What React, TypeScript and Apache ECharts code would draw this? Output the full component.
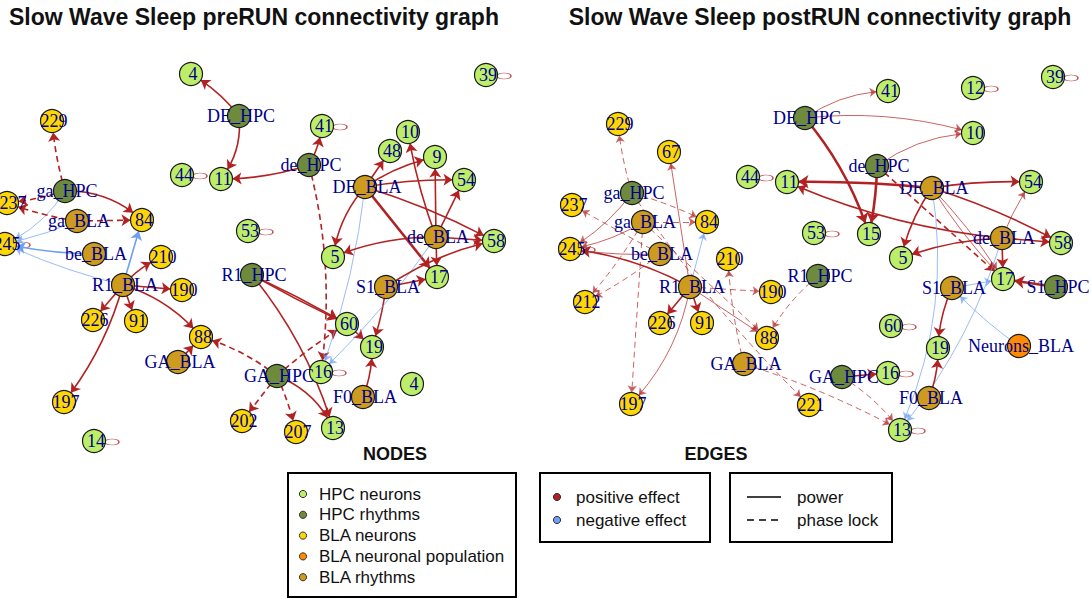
import React, { useEffect, useRef } from "react";
import * as echarts from "echarts";

const PRE_TITLE = "Slow Wave Sleep preRUN connectivity graph";
const POST_TITLE = "Slow Wave Sleep postRUN connectivity graph";

const NODE_TYPES = ["HPC neurons", "HPC rhythms", "BLA neurons", "BLA neuronal population", "BLA rhythms"];
const NODE_COLORS = ["#BCEE68", "#6E8B3D", "#FFD700", "#FF8C00", "#CD9B1D"];
const EFFECTS = ["positive effect", "negative effect"];
const EFFECT_COLORS = ["#B22222", "#6F9FF0"];
const KINDS = ["power", "phase lock"];

// [id, label, node type, x, y]
const PRE_NODES: [string, string, number, number, number][] = [
  ["4", "4", 0, 191, 74],
  ["DE_HPC", "DE_HPC", 1, 239, 116],
  ["229", "229", 2, 52, 121],
  ["41", "41", 0, 322, 126],
  ["39", "39", 0, 486, 75],
  ["44", "44", 0, 182, 175],
  ["11", "11", 0, 221, 179],
  ["de_HPC", "de_HPC", 1, 309, 165],
  ["10", "10", 0, 408, 132],
  ["48", "48", 0, 390, 151],
  ["9", "9", 0, 435, 157],
  ["54", "54", 0, 464, 180],
  ["DE_BLA", "DE_BLA", 4, 365, 187],
  ["ga_HPC", "ga_HPC", 1, 65, 191],
  ["237", "237", 2, 7, 203],
  ["ga_BLA", "ga_BLA", 4, 77, 221],
  ["84", "84", 2, 142, 220],
  ["53", "53", 0, 248, 231],
  ["de_BLA", "de_BLA", 4, 436, 237],
  ["58", "58", 0, 494, 241],
  ["245", "245", 2, 5, 244],
  ["be_BLA", "be_BLA", 4, 94, 254],
  ["5", "5", 0, 333, 257],
  ["210", "210", 2, 161, 257],
  ["R1_HPC", "R1_HPC", 1, 252, 275],
  ["17", "17", 0, 437, 277],
  ["S1_BLA", "S1_BLA", 4, 386, 287],
  ["R1_BLA", "R1_BLA", 4, 123, 285],
  ["190", "190", 2, 182, 290],
  ["226", "226", 2, 93, 320],
  ["91", "91", 2, 136, 321],
  ["60", "60", 0, 347, 324],
  ["88", "88", 2, 201, 337],
  ["19", "19", 0, 372, 347],
  ["GA_BLA", "GA_BLA", 4, 178, 362],
  ["16", "16", 0, 321, 372],
  ["GA_HPC", "GA_HPC", 1, 277, 376],
  ["4b", "4", 0, 412, 384],
  ["F0_BLA", "F0_BLA", 4, 363, 397],
  ["197", "197", 2, 64, 402],
  ["202", "202", 2, 242, 421],
  ["207", "207", 2, 296, 432],
  ["13", "13", 0, 333, 428],
  ["14", "14", 0, 94, 441],
];

const POST_NODES: [string, string, number, number, number][] = [
  ["39", "39", 0, 1053, 77],
  ["12", "12", 0, 973, 88],
  ["41", "41", 0, 888, 91],
  ["DE_HPC", "DE_HPC", 1, 805, 118],
  ["10", "10", 0, 973, 133],
  ["229", "229", 2, 618, 124],
  ["67", "67", 2, 669, 152],
  ["44", "44", 0, 748, 177],
  ["11", "11", 0, 787, 182],
  ["de_HPC", "de_HPC", 1, 877, 166],
  ["DE_BLA", "DE_BLA", 4, 932, 188],
  ["54", "54", 0, 1031, 182],
  ["ga_HPC", "ga_HPC", 1, 632, 193],
  ["237", "237", 2, 572, 205],
  ["ga_BLA", "ga_BLA", 4, 643, 222],
  ["84", "84", 2, 707, 222],
  ["53", "53", 0, 814, 233],
  ["15", "15", 0, 869, 234],
  ["de_BLA", "de_BLA", 4, 1002, 238],
  ["58", "58", 0, 1061, 243],
  ["245", "245", 2, 570, 249],
  ["be_BLA", "be_BLA", 4, 660, 254],
  ["5", "5", 0, 901, 258],
  ["210", "210", 2, 728, 259],
  ["R1_HPC", "R1_HPC", 1, 818, 276],
  ["17", "17", 0, 1003, 279],
  ["S1_HPC", "S1_HPC", 1, 1056, 287],
  ["S1_BLA", "S1_BLA", 4, 952, 288],
  ["R1_BLA", "R1_BLA", 4, 690, 287],
  ["190", "190", 2, 771, 292],
  ["212", "212", 2, 585, 302],
  ["226", "226", 2, 660, 323],
  ["91", "91", 2, 702, 323],
  ["60", "60", 0, 891, 326],
  ["88", "88", 2, 767, 338],
  ["Neurons_BLA", "Neurons_BLA", 3, 1019, 346],
  ["19", "19", 0, 938, 348],
  ["GA_BLA", "GA_BLA", 4, 744, 364],
  ["GA_HPC", "GA_HPC", 1, 842, 377],
  ["16", "16", 0, 888, 373],
  ["F0_BLA", "F0_BLA", 4, 929, 398],
  ["197", "197", 2, 631, 404],
  ["221", "221", 2, 809, 405],
  ["13", "13", 0, 900, 430],
];

// [source, target, effect index, kind index, strength]
const PRE_LINKS: [string, string, number, number, number][] = [
  ["DE_HPC", "4", 0, 0, 2],
  ["DE_HPC", "11", 0, 0, 2],
  ["de_HPC", "11", 0, 0, 2],
  ["de_HPC", "41", 0, 0, 2],
  ["de_HPC", "16", 0, 1, 2],
  ["ga_HPC", "229", 0, 1, 2],
  ["ga_HPC", "237", 0, 1, 2],
  ["ga_HPC", "84", 0, 0, 2],
  ["ga_HPC", "245", 1, 0, 1],
  ["ga_BLA", "237", 0, 1, 2],
  ["ga_BLA", "84", 0, 1, 2],
  ["ga_BLA", "245", 1, 0, 1],
  ["be_BLA", "245", 1, 0, 2],
  ["R1_BLA", "245", 1, 0, 1],
  ["R1_BLA", "84", 1, 0, 2],
  ["R1_BLA", "210", 0, 0, 2],
  ["R1_BLA", "190", 0, 0, 2],
  ["R1_BLA", "226", 0, 0, 2],
  ["R1_BLA", "91", 0, 0, 2],
  ["R1_BLA", "88", 0, 0, 2],
  ["R1_BLA", "197", 0, 0, 2],
  ["GA_BLA", "88", 0, 0, 2],
  ["GA_HPC", "88", 0, 1, 2],
  ["GA_HPC", "202", 0, 1, 2],
  ["GA_HPC", "207", 0, 1, 2],
  ["GA_HPC", "13", 0, 0, 2],
  ["GA_HPC", "60", 0, 1, 2],
  ["R1_HPC", "60", 0, 0, 2],
  ["R1_HPC", "60", 0, 0, 2],
  ["R1_HPC", "13", 0, 0, 2],
  ["60", "19", 0, 0, 2],
  ["S1_BLA", "19", 0, 0, 2],
  ["F0_BLA", "19", 0, 0, 2],
  ["DE_BLA", "48", 0, 0, 2],
  ["DE_BLA", "9", 0, 0, 2],
  ["DE_BLA", "54", 0, 0, 2],
  ["DE_BLA", "58", 0, 0, 2],
  ["DE_BLA", "5", 0, 0, 2],
  ["DE_BLA", "17", 0, 0, 3],
  ["DE_BLA", "16", 1, 0, 1],
  ["de_BLA", "10", 0, 0, 2],
  ["de_BLA", "9", 0, 0, 2],
  ["de_BLA", "54", 0, 0, 2],
  ["de_BLA", "58", 0, 0, 2],
  ["de_BLA", "5", 0, 0, 2],
  ["de_BLA", "17", 0, 0, 2],
  ["de_BLA", "16", 1, 0, 1],
  ["S1_BLA", "17", 0, 0, 2],
  ["S1_BLA", "58", 0, 0, 2],
];
const PRE_CURVES = [
  -0.1, 0.2, 0.08, -0.1, 0.1, 0.05, 0.05, 0.2, 0.15, 0.05, 0, 0.05, 0.05, 0.05, 0, 0.1, 0, 0, 0, 0.15, 0.1,
  0, -0.1, 0, 0.05, 0.2, 0.05, 0.02, -0.02, 0.1, 0, 0.05, -0.1, 0, 0.1, 0.05, 0.05, -0.15, 0, 0.06,
  0.05, 0, 0, 0, -0.1, 0, 0.05, 0, 0.1,
];

const POST_LINKS: [string, string, number, number, number][] = [
  ["DE_HPC", "41", 0, 0, 1],
  ["DE_HPC", "10", 0, 0, 1],
  ["DE_HPC", "15", 0, 0, 3],
  ["de_HPC", "10", 0, 0, 1],
  ["de_HPC", "15", 0, 0, 3],
  ["de_HPC", "17", 0, 1, 2],
  ["DE_BLA", "11", 0, 0, 3],
  ["de_BLA", "11", 0, 0, 2],
  ["DE_BLA", "54", 0, 0, 2],
  ["DE_BLA", "58", 0, 0, 2],
  ["DE_BLA", "5", 0, 0, 2],
  ["DE_BLA", "17", 0, 0, 1],
  ["DE_BLA", "17", 0, 0, 1],
  ["DE_BLA", "13", 1, 0, 1],
  ["de_BLA", "13", 1, 0, 1],
  ["de_BLA", "5", 0, 0, 2],
  ["de_BLA", "58", 0, 0, 2],
  ["de_BLA", "54", 0, 0, 1],
  ["de_BLA", "17", 0, 0, 2],
  ["S1_HPC", "17", 0, 0, 3],
  ["Neurons_BLA", "S1_BLA", 1, 0, 1],
  ["S1_BLA", "17", 1, 0, 1],
  ["S1_BLA", "19", 0, 0, 2],
  ["F0_BLA", "19", 0, 0, 2],
  ["GA_HPC", "16", 0, 0, 2],
  ["GA_HPC", "13", 0, 1, 1],
  ["GA_BLA", "13", 0, 1, 1],
  ["GA_BLA", "210", 0, 1, 1],
  ["R1_HPC", "88", 0, 1, 1],
  ["R1_BLA", "245", 0, 0, 2],
  ["R1_BLA", "84", 1, 0, 1],
  ["R1_BLA", "67", 0, 0, 1],
  ["R1_BLA", "190", 0, 1, 1],
  ["R1_BLA", "226", 0, 0, 2],
  ["R1_BLA", "91", 0, 0, 2],
  ["R1_BLA", "88", 0, 0, 1],
  ["R1_BLA", "197", 0, 0, 1],
  ["ga_HPC", "229", 0, 1, 1],
  ["ga_HPC", "84", 0, 1, 1],
  ["ga_HPC", "245", 0, 0, 1],
  ["ga_HPC", "221", 0, 1, 1],
  ["ga_BLA", "245", 0, 0, 1],
  ["ga_BLA", "84", 0, 1, 1],
  ["ga_BLA", "212", 0, 1, 1],
  ["ga_BLA", "197", 0, 1, 1],
  ["ga_BLA", "88", 0, 1, 1],
  ["be_BLA", "245", 0, 0, 1],
  ["be_BLA", "237", 0, 1, 1],
  ["be_BLA", "212", 0, 1, 1],
];
const POST_CURVES = [
  0.15, 0.1, 0.1, 0.15, 0.05, 0, -0.03, 0.08, 0.05, 0.05, -0.1, 0.05, -0.05, 0.15, 0.1, -0.08, 0, 0.05, 0,
  0, 0.05, 0, -0.1, -0.1, 0, 0.1, 0.05, 0.05, -0.1, -0.1, 0, 0, 0, 0, 0, 0, 0.15, 0.05, 0.05, 0.1, -0.05,
  0.1, 0, 0.05, 0, 0, 0.05, 0, 0.05,
];

const PRE_LOOPS = ["39", "41", "44", "53", "245", "16", "14"];
const POST_LOOPS = ["39", "12", "44", "53", "245", "60", "16", "13"];

// label nudges (style only) for labels that sit against the panel edge
const PRE_LABEL_NUDGE: Record<string, number> = { "237": 6 };

const LABEL_FONT = "Liberation Serif, 'Times New Roman', serif";
const SANS = "Liberation Sans, Arial, sans-serif";
const LOOP_PATH = "path://M0,5C0,-1.5,20,-1.5,20,5C20,11.5,0,11.5,0,5Z";

function graphSeries(
  nodes: [string, string, number, number, number][],
  links: [string, string, number, number, number][],
  curves: number[],
  nudge: Record<string, number>
) {
  return {
    type: "graph",
    coordinateSystem: "cartesian2d",
    xAxisIndex: 0,
    yAxisIndex: 0,
    symbol: "circle",
    symbolSize: 23,
    z: 3,
    emphasis: { disabled: true },
    categories: NODE_TYPES.map((t, i) => ({ name: t, itemStyle: { color: NODE_COLORS[i] } })),
    itemStyle: { borderColor: "#1a1a1a", borderWidth: 1.2 },
    label: {
      show: true,
      position: "inside",
      offset: [2, 0],
      color: "#00008B",
      fontFamily: LABEL_FONT,
      fontSize: 18,
    },
    edgeSymbol: ["none", "arrow"],
    edgeSymbolSize: 9,
    data: nodes.map(([id, label, type, x, y]) => {
      const item: any = { id, name: label, category: type, value: [x, y] };
      if (nudge[id]) item.label = { offset: [nudge[id], 0] };
      return item;
    }),
    links: links.map(([s, t, eff, kind, str], i) => ({
      source: s,
      target: t,
      symbolSize: [0, str === 1 ? 7 : str === 2 ? 9 : 10],
      lineStyle: {
        color: EFFECT_COLORS[eff],
        width: str === 1 ? 1 : str === 2 ? 1.6 : 2.6,
        opacity: str === 1 ? 0.7 : 1,
        type: kind === 1 ? [6, 4] : "solid",
        curveness: curves[i] || 0,
      },
    })),
  };
}

function loopSeries(nodes: [string, string, number, number, number][], loops: string[]) {
  return {
    type: "scatter",
    coordinateSystem: "cartesian2d",
    silent: true,
    z: 2,
    symbol: LOOP_PATH,
    symbolSize: [14, 6],
    symbolOffset: [18, 1],
    itemStyle: { color: "rgba(0,0,0,0)", borderColor: "#B22222", borderWidth: 1 },
    data: loops.map((id) => {
      const n = nodes.find((d) => d[0] === id)!;
      return [n[3], n[4]];
    }),
  };
}

function legendGraphics() {
  const els: any[] = [];
  const txt = (x: number, y: number, text: string, size: number, bold = false, align = "left") => ({
    type: "text",
    x,
    y,
    style: {
      text,
      fill: "#111",
      fontFamily: SANS,
      fontSize: size,
      fontWeight: bold ? "bold" : "normal",
      align,
      verticalAlign: "middle",
    },
  });
  els.push(txt(254, 17, PRE_TITLE, 23, true, "center"));
  els.push(txt(820, 17, POST_TITLE, 23, true, "center"));
  // NODES legend
  els.push(txt(395, 454, "NODES", 18, true, "center"));
  els.push({ type: "rect", shape: { x: 288, y: 473, width: 228, height: 124 }, style: { fill: "none", stroke: "#000", lineWidth: 2 } });
  NODE_TYPES.forEach((t, i) => {
    const y = 494 + i * 20.8;
    els.push({ type: "circle", shape: { cx: 303, cy: y, r: 3.6 }, style: { fill: NODE_COLORS[i], stroke: "#333", lineWidth: 1 } });
    els.push(txt(319, y, t, 17));
  });
  // EDGES legend
  els.push(txt(716, 454, "EDGES", 18, true, "center"));
  els.push({ type: "rect", shape: { x: 540, y: 473, width: 170, height: 69 }, style: { fill: "none", stroke: "#000", lineWidth: 2 } });
  EFFECTS.forEach((t, i) => {
    const y = 497 + i * 23;
    els.push({ type: "circle", shape: { cx: 557, cy: y, r: 3.6 }, style: { fill: EFFECT_COLORS[i], stroke: "#333", lineWidth: 1 } });
    els.push(txt(576, y, t, 17));
  });
  els.push({ type: "rect", shape: { x: 730, y: 473, width: 162, height: 69 }, style: { fill: "none", stroke: "#000", lineWidth: 2 } });
  KINDS.forEach((t, i) => {
    const y = 497 + i * 23;
    els.push({
      type: "line",
      shape: { x1: 747, y1: y, x2: 781, y2: y },
      style: { stroke: "#000", lineWidth: 1.4, lineDash: i === 1 ? [7, 5] : null },
    });
    els.push(txt(797, y, t, 17));
  });
  return els;
}

export default function App() {
  const ref = useRef<HTMLDivElement>(null);
  useEffect(() => {
    const chart = echarts.init(ref.current!, null, { renderer: "svg" });
    chart.setOption({
      animation: false,
      backgroundColor: "#fff",
      grid: { left: 0, right: 0, top: 0, bottom: 0, containLabel: false },
      xAxis: { type: "value", min: 0, max: 1091, show: false },
      yAxis: { type: "value", min: 0, max: 598, inverse: true, show: false },
      series: [
        loopSeries(PRE_NODES, PRE_LOOPS),
        loopSeries(POST_NODES, POST_LOOPS),
        graphSeries(PRE_NODES, PRE_LINKS, PRE_CURVES, PRE_LABEL_NUDGE),
        graphSeries(POST_NODES, POST_LINKS, POST_CURVES, {}),
      ],
      graphic: legendGraphics(),
    });
    return () => chart.dispose();
  }, []);
  return (
    <div
      ref={ref}
      style={{ position: "absolute", left: 0, top: 0, width: 1091, height: 598, background: "#fff" }}
    />
  );
}
